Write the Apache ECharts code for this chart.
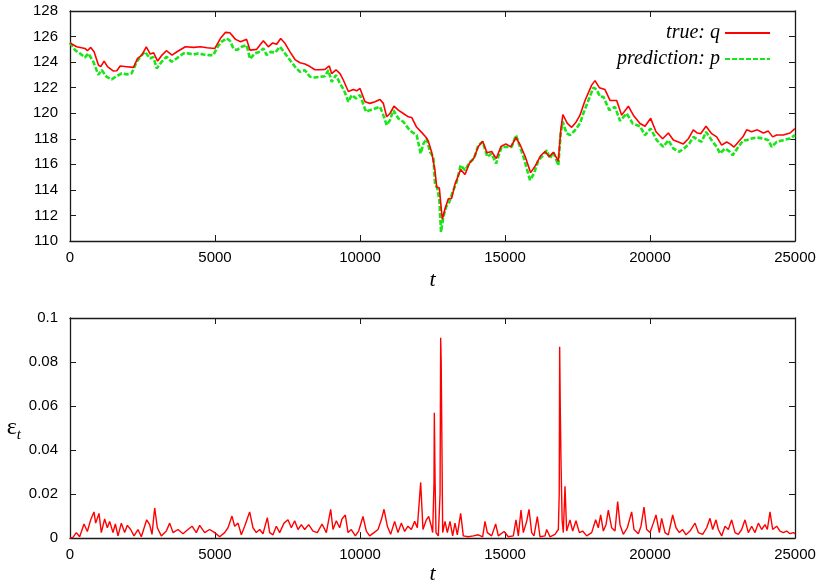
<!DOCTYPE html>
<html>
<head>
<meta charset="utf-8">
<script src="https://cdn.jsdelivr.net/npm/echarts@6/dist/echarts.min.js"></script>
<style>
  html, body { margin: 0; padding: 0; background: #fff; }
  #box { width: 820px; height: 586px; }
</style>
</head>
<body>
<div id="box"></div>
<script>
// top panel: true price q
let tTrue = [0,231,519,600,715,830,980,1061,1176,1292,1499,1615,1730,1961,2191,2330,2480,2630,2768,2884,3022,3172,3322,3518,3691,3979,4268,4498,4729,4994,5190,5363,5513,5709,5882,6090,6205,6437,6667,6839,6989,7126,7264,7414,7586,7759,7931,8103,8276,8448,8621,8793,8943,9023,9172,9310,9425,9598,9770,9885,10000,10172,10345,10517,10690,10805,10920,11034,11172,11322,11494,11667,11782,11954,12126,12276,12356,12471,12586,12644,12736,12782,12839,12931,13046,13161,13276,13471,13621,13770,13931,14080,14230,14380,14540,14700,14860,15030,15200,15379,15517,15690,15885,16050,16220,16379,16529,16667,16839,16920,16995,17149,17299,17448,17586,17759,17989,18103,18253,18448,18621,18851,19023,19253,19425,19655,19828,20023,20207,20437,20632,20805,20977,21149,21322,21494,21632,21747,21931,22126,22299,22471,22644,22759,22897,23046,23218,23333,23506,23701,23908,24080,24230,24368,24598,24828,25000];
let qTrue = [125.5,125.2,125.07,124.89,125.15,124.81,123.77,123.64,124.08,123.64,123.3,123.32,123.69,123.64,123.59,124.29,124.55,125.2,124.63,124.73,124.08,124.55,124.89,124.55,124.81,125.2,125.15,125.2,125.13,125.07,125.86,126.33,126.3,125.78,125.6,125.78,124.94,125.0,125.67,125.2,125.5,125.4,125.85,125.47,124.8,124.2,123.95,123.85,123.65,123.4,123.4,123.43,123.7,123.1,123.4,123.1,122.6,121.7,121.86,121.75,121.94,120.9,120.77,120.9,121.08,120.77,119.72,119.98,120.55,120.24,119.98,119.72,119.67,118.9,118.5,118.12,117.8,116.95,115.5,114.23,114.15,113.0,111.7,112.5,113.3,113.35,114.45,115.6,115.2,116.06,116.5,117.4,117.8,116.9,117.0,116.45,117.4,117.6,117.37,118.1,117.55,116.65,115.35,115.9,116.65,117.0,116.6,116.95,116.25,118.6,119.9,119.2,118.9,119.3,119.85,121.0,122.2,122.55,122.0,121.85,121.0,121.0,119.85,120.55,119.85,119.2,118.98,119.6,118.55,118.0,118.45,117.9,117.75,117.6,118.0,118.7,118.45,118.4,118.98,118.4,118.15,117.5,117.75,117.6,117.35,117.75,118.2,118.7,118.55,118.7,118.45,118.6,118.15,118.3,118.3,118.45,118.8];

// top panel: prediction p
let tPred = [0,172,345,517,632,805,977,1092,1264,1437,1609,1782,1954,2126,2299,2471,2586,2759,2874,2989,3161,3333,3506,3678,3908,4080,4253,4425,4598,4770,4943,5092,5230,5402,5517,5632,5747,5920,6092,6207,6379,6552,6667,6782,6920,7069,7241,7414,7586,7759,7931,8103,8276,8448,8621,8793,8908,9023,9172,9310,9448,9598,9713,9862,10000,10207,10345,10517,10690,10805,10920,11034,11149,11322,11494,11667,11782,11954,12092,12184,12299,12414,12529,12586,12667,12736,12793,12874,12966,13080,13195,13333,13471,13621,13793,13931,14080,14230,14391,14540,14690,14885,15057,15230,15379,15517,15655,15862,16000,16149,16322,16437,16552,16667,16839,16920,16989,17126,17241,17414,17586,17701,17874,18046,18161,18276,18391,18598,18793,18966,19195,19402,19655,19828,20023,20230,20460,20632,20805,21011,21172,21356,21494,21667,21782,21931,22126,22299,22414,22586,22759,22851,23046,23218,23333,23506,23678,23908,24080,24195,24368,24598,24828,25000];
let pPred = [125.52,124.94,124.68,124.37,124.68,124.03,123.0,123.38,122.85,122.65,122.9,123.12,123.04,123.12,124.03,124.55,124.81,124.29,124.4,123.5,124.03,124.42,124.03,124.29,124.68,124.68,124.6,124.68,124.6,124.55,124.55,125.2,125.6,125.86,125.67,125.08,124.94,125.2,125.33,124.25,124.68,124.81,125.08,124.55,124.8,124.73,125.2,124.68,124.16,123.63,123.24,123.37,122.85,122.8,122.85,122.9,123.37,122.46,122.98,122.33,121.81,120.9,121.42,121.16,121.42,120.11,120.24,120.37,120.5,119.85,119.07,119.46,120.24,119.59,119.33,118.8,118.55,118.28,116.85,117.6,118.02,116.97,116.58,114.5,114.1,113.19,110.7,111.88,112.66,113.05,113.84,114.62,115.93,115.54,116.19,116.45,117.5,117.76,116.58,116.85,116.06,117.37,117.37,117.37,118.28,117.37,116.46,114.76,115.28,116.32,116.71,117.1,116.46,116.97,115.93,118.42,119.33,118.42,118.28,118.67,119.2,119.98,121.0,122.0,121.86,121.29,121.29,120.24,120.5,119.4,119.98,119.2,118.98,118.28,118.8,117.89,117.37,117.89,117.24,116.98,117.24,117.63,118.15,117.89,117.76,118.54,117.89,117.37,116.85,117.24,116.98,116.71,117.37,117.89,117.89,118.02,118.1,118.02,117.89,117.37,117.76,117.89,118.02,118.28];

// bottom panel: error eps_t
let tErr = [0,100,218,333,483,598,713,828,885,1000,1080,1195,1287,1368,1483,1563,1655,1770,1885,1977,2092,2207,2345,2460,2644,2747,2828,2920,3011,3149,3322,3437,3552,3724,3897,4069,4207,4356,4471,4644,4816,4989,5161,5333,5448,5586,5678,5793,5908,6023,6195,6310,6425,6540,6655,6805,6885,7000,7115,7230,7379,7517,7632,7747,7862,7977,8092,8230,8379,8529,8690,8839,8989,9069,9184,9299,9379,9494,9586,9701,9839,9954,10103,10218,10333,10483,10621,10736,10828,10943,11057,11195,11310,11425,11540,11655,11770,11885,11977,12092,12172,12287,12368,12460,12506,12552,12563,12590,12621,12701,12760,12782,12800,12851,12931,13011,13103,13195,13276,13356,13471,13563,13736,13908,14080,14230,14310,14391,14540,14678,14770,14966,15115,15287,15379,15460,15552,15632,15747,15828,15920,16000,16115,16207,16379,16437,16552,16724,16839,16870,16885,16905,16931,16970,17011,17069,17126,17241,17333,17448,17563,17678,17816,17989,18126,18218,18299,18391,18483,18563,18678,18793,18885,18966,19080,19218,19368,19448,19598,19690,19793,19885,20000,20115,20207,20322,20402,20517,20632,20782,20897,21011,21126,21241,21379,21552,21667,21816,21954,22069,22161,22276,22356,22471,22586,22701,22816,22931,23046,23161,23276,23391,23506,23621,23736,23851,23966,24046,24138,24230,24368,24483,24598,24713,24828,24943,25000];
let eErr = [0,0.0003,0.0025,0.0006,0.0064,0.003,0.0083,0.0119,0.0068,0.0112,0.0025,0.0087,0.0047,0.0076,0.0025,0.0064,0.001,0.0068,0.0025,0.0058,0.0039,0.001,0.0039,0.0006,0.0083,0.0061,0.0017,0.0137,0.0047,0.001,0.0032,0.0068,0.0025,0.0039,0.002,0.0039,0.0054,0.0025,0.0058,0.0025,0.0039,0.0025,0.0006,0.0025,0.0047,0.01,0.0054,0.0068,0.0015,0.0054,0.0119,0.0047,0.0025,0.0039,0.002,0.0093,0.0025,0.0015,0.0054,0.0025,0.0068,0.0083,0.0047,0.0079,0.0039,0.0061,0.0039,0.0061,0.0032,0.0025,0.0064,0.0025,0.0131,0.0039,0.0079,0.0047,0.0087,0.0105,0.0025,0.0039,0.001,0.0032,0.0098,0.0032,0.001,0.0025,0.0039,0.0083,0.0131,0.0054,0.0017,0.0076,0.0025,0.0068,0.003,0.0054,0.0039,0.0076,0.0047,0.0253,0.0039,0.0083,0.0098,0.0054,0.0025,0.025,0.057,0.025,0.0025,0.001,0.02,0.091,0.08,0.0025,0.0076,0.0025,0.0076,0.001,0.0068,0.0015,0.0112,0.001,0.0006,0.001,0.0015,0.0006,0.0076,0.0025,0.001,0.0064,0.001,0.003,0.0006,0.001,0.0083,0.001,0.0127,0.0025,0.0076,0.0131,0.0025,0.001,0.0098,0.0006,0.001,0.0039,0.0006,0.0017,0.0039,0.02,0.0869,0.06,0.035,0.008,0.0025,0.0236,0.0032,0.0083,0.0032,0.0079,0.0025,0.0032,0.001,0.0025,0.0083,0.0047,0.0105,0.0032,0.0061,0.0127,0.0047,0.0032,0.0166,0.0061,0.0017,0.0047,0.0119,0.0039,0.002,0.0054,0.0141,0.0039,0.0025,0.0068,0.0105,0.0025,0.009,0.0025,0.0015,0.0105,0.0047,0.0025,0.0039,0.0015,0.0032,0.0068,0.0025,0.0017,0.0047,0.009,0.0039,0.0083,0.0039,0.001,0.0054,0.0039,0.0083,0.0025,0.0017,0.0039,0.0083,0.0025,0.0054,0.0025,0.0068,0.0039,0.0061,0.0039,0.0119,0.0039,0.0054,0.0032,0.0025,0.0032,0.002,0.0025,0.002];

let xTicks = [0, 25000, 5000];     // min, max, interval
let yTopTicks = [110, 128, 2];
let yBotTicks = [0, 0.1, 0.02];

function pairs(xs, ys) {
  return xs.map((x, i) => [x, ys[i]]);
}

let sans = 'Liberation Sans';
let serif = 'Liberation Serif';
let ink = '#1a1a1a';

function xAx(grid, pos, labels, name, gap) {
  return {
    type: 'value', gridIndex: grid, position: pos,
    min: xTicks[0], max: xTicks[1], interval: xTicks[2],
    axisLine: { show: true, onZero: false, lineStyle: { color: ink, width: 1.3 } },
    axisTick: { show: true, inside: true, length: 6, lineStyle: { color: ink } },
    axisLabel: { show: labels, color: '#000', fontFamily: sans, fontSize: 15, margin: 9,
                 formatter: v => String(v) },
    splitLine: { show: false },
    name: name, nameLocation: 'middle', nameGap: gap,
    nameTextStyle: { fontFamily: serif, fontStyle: 'italic', fontSize: 22, color: '#000' }
  };
}

function yAx(grid, pos, labels, ticks, extra) {
  let a = {
    type: 'value', gridIndex: grid, position: pos,
    min: ticks[0], max: ticks[1], interval: ticks[2],
    axisLine: { show: true, onZero: false, lineStyle: { color: ink, width: 1.3 } },
    axisTick: { show: true, inside: true, length: 6, lineStyle: { color: ink } },
    axisLabel: { show: labels, color: '#000', fontFamily: sans, fontSize: 15, margin: 12,
                 formatter: v => String(v) },
    splitLine: { show: false }
  };
  return Object.assign(a, extra || {});
}

window.addEventListener('load', function () {
  let box = document.querySelector('#box');
  let mychart = echarts.init(box, null, { renderer: 'canvas' });

  let options = {
    backgroundColor: '#ffffff',
    animation: false,
    grid: [
      { left: 70, right: 25, top: 11, height: 230 },
      { left: 70, right: 25, top: 318, height: 229 }
    ],
    legend: {
      orient: 'vertical',
      right: 44, top: 18,
      align: 'right',
      itemWidth: 45, itemHeight: 14, itemGap: 6,
      itemStyle: { opacity: 0 },
      textStyle: { fontFamily: serif, fontStyle: 'italic', fontSize: 20, color: '#000' },
      data: ['true: q', 'prediction: p']
    },
    xAxis: [
      xAx(0, 'bottom', true, 't', 28),
      xAx(0, 'top', false, '', 0),
      xAx(1, 'bottom', true, 't', 24),
      xAx(1, 'top', false, '', 0)
    ],
    yAxis: [
      yAx(0, 'left', true, yTopTicks),
      yAx(0, 'right', false, yTopTicks),
      yAx(1, 'left', true, yBotTicks, {
        name: '{e|ε}{s|t}', nameLocation: 'middle', nameRotate: 0, nameGap: 49,
        nameTextStyle: {
          rich: {
            e: { fontFamily: serif, fontSize: 24, color: '#000', lineHeight: 30 },
            s: { fontFamily: serif, fontStyle: 'italic', fontSize: 15, color: '#000', verticalAlign: 'bottom', lineHeight: 30 }
          }
        }
      }),
      yAx(1, 'right', false, yBotTicks)
    ],
    series: [
      {
        name: 'true: q', type: 'line', xAxisIndex: 0, yAxisIndex: 0,
        showSymbol: false, symbol: 'none',
        lineStyle: { color: '#ff0000', width: 1.6 },
        itemStyle: { color: '#ff0000' },
        data: pairs(tTrue, qTrue), z: 3
      },
      {
        name: 'prediction: p', type: 'line', xAxisIndex: 0, yAxisIndex: 0,
        showSymbol: false, symbol: 'none',
        lineStyle: { color: '#19e619', width: 2.6, type: [5, 2] },
        itemStyle: { color: '#19e619' },
        data: pairs(tPred, pPred), z: 2
      },
      {
        name: 'eps', type: 'line', xAxisIndex: 2, yAxisIndex: 2,
        showSymbol: false, symbol: 'none',
        lineStyle: { color: '#ff0000', width: 1.4 },
        data: pairs(tErr, eErr)
      }
    ]
  };

  mychart.setOption(options);
});
</script>
</body>
</html>
